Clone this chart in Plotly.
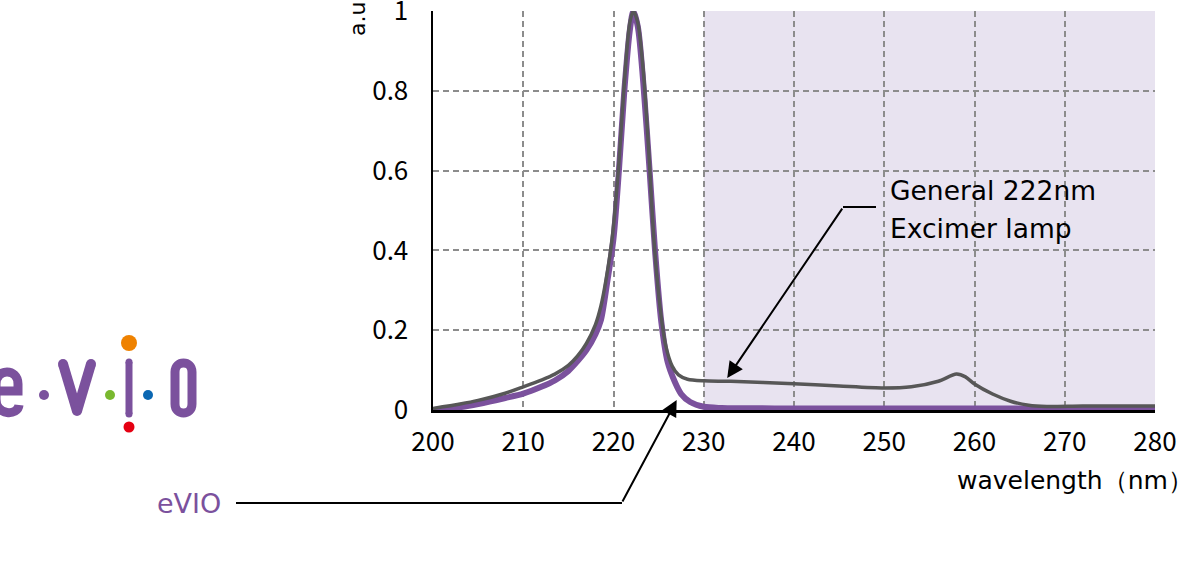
import plotly.graph_objects as go

# ---------------- data ----------------
evio_wl = [200, 203, 205, 208, 210, 212, 213.5, 215, 216, 217, 218, 218.6, 219.3, 220, 220.6,
           221.2, 221.8, 222.2, 222.7, 223.3, 224, 224.6, 225.3, 226, 226.8, 227.5, 228.5, 230,
           232, 240, 260, 280]
evio_val = [0.0, 0.007, 0.015, 0.03, 0.041, 0.058, 0.074, 0.098, 0.122, 0.15, 0.19, 0.225, 0.32,
            0.43, 0.6, 0.8, 0.95, 1.0, 0.96, 0.82, 0.6, 0.4, 0.22, 0.12, 0.07, 0.04, 0.02, 0.008,
            0.005, 0.004, 0.004, 0.004]

lamp_wl = [200, 203, 205, 208, 210, 212, 213.5, 215, 216, 217, 218, 218.6, 219.2, 219.9, 220.6,
           221.2, 221.8, 222.2, 222.7, 223.3, 223.9, 224.5, 225.2, 225.8, 226.5, 227.2, 228.2,
           230, 233, 240, 245, 250, 253, 256, 258, 259, 260, 262, 264, 266, 268, 272, 280]
lamp_val = [0.004, 0.015, 0.024, 0.042, 0.058, 0.075, 0.09, 0.112, 0.135, 0.167, 0.214, 0.26,
            0.33, 0.44, 0.62, 0.82, 0.97, 1.0, 0.97, 0.85, 0.65, 0.42, 0.25, 0.16, 0.11, 0.088,
            0.077, 0.073, 0.072, 0.066, 0.06, 0.055, 0.058, 0.072, 0.09, 0.083, 0.065, 0.04,
            0.022, 0.012, 0.009, 0.01, 0.01]

x_ticks = [200, 210, 220, 230, 240, 250, 260, 270, 280]
x_ticklabels = ["200", "210", "220", "230", "240", "250", "260", "270", "280"]
x_gridvals = [210, 220, 230, 240, 250, 260, 270]
y_ticks = [0, 0.2, 0.4, 0.6, 0.8, 1]
y_ticklabels = ["0", "0.2", "0.4", "0.6", "0.8", "1"]
shade_range = [230, 280]

PURPLE = "#7B519D"
GRAY = "#575757"
TICKFONT = "Noto Sans CJK JP, Noto Sans, sans-serif"
TEXTFONT = "DejaVu Sans, sans-serif"

W, H = 1200, 563
L, R, T, B = 433, 45, 11, 153
PW, PH = W - L - R, H - T - B


def px(x):
    return (x - L) / PW


def py(y):
    return (H - B - y) / PH


fig = go.Figure()
fig.add_trace(go.Scatter(x=evio_wl, y=evio_val, mode="lines",
                         line=dict(color=PURPLE, width=6, shape="spline", smoothing=0.8),
                         showlegend=False, hoverinfo="skip"))
fig.add_trace(go.Scatter(x=lamp_wl, y=lamp_val, mode="lines",
                         line=dict(color=GRAY, width=3.5, shape="spline", smoothing=0.8),
                         showlegend=False, hoverinfo="skip"))

shapes = []
shapes.append(dict(type="rect", xref="x", yref="y", x0=shade_range[0], x1=shade_range[1],
                   y0=0, y1=1, fillcolor="#E8E3F0", line=dict(width=0), layer="below"))

shapes.append(dict(type="line", xref="paper", yref="paper", x0=px(843), x1=px(876),
                   y0=py(207), y1=py(207), line=dict(color="black", width=2)))
shapes.append(dict(type="line", xref="paper", yref="paper", x0=px(236), x1=px(622),
                   y0=py(503), y1=py(503), line=dict(color="black", width=2)))


def seg(x0, y0, x1, y1, w, c=PURPLE):
    return dict(type="line", xref="paper", yref="paper", x0=px(x0), x1=px(x1),
                y0=py(y0), y1=py(y1), line=dict(color=c, width=w), layer="above")


def dot(cx, cy, r, c):
    return dict(type="circle", xref="paper", yref="paper", x0=px(cx - r), x1=px(cx + r),
                y0=py(cy + r), y1=py(cy - r), fillcolor=c, line=dict(width=0), layer="above")


def path(pts, w):
    out = []
    for tok in pts.split():
        if "," in tok:
            a, b = tok.split(",")
            out.append(f"{px(float(a)):.5f},{py(float(b)):.5f}")
        else:
            out.append(tok)
    return dict(type="path", xref="paper", yref="paper", path=" ".join(out),
                line=dict(color=PURPLE, width=w), layer="above")

# logo e . V . I . O
shapes.append(path("M -4,391 L 18,391 L 18,384 C 18,368 -4,368 -4,384 L -4,399 C -4,416 18,416 19,405", 9))
shapes.append(dot(44, 395, 5, PURPLE))
shapes.append(seg(63, 364, 77, 411, 10))
shapes.append(seg(91, 364, 77, 411, 10))
shapes.append(dot(63, 364, 5, PURPLE))
shapes.append(dot(91, 364, 5, PURPLE))
shapes.append(dot(77, 411, 5, PURPLE))
shapes.append(dot(110, 395, 5, "#79B82F"))
shapes.append(seg(129, 362, 129, 414, 7))
shapes.append(dot(129, 362, 3.5, PURPLE))
shapes.append(dot(129, 414, 3.5, PURPLE))
shapes.append(dot(129, 343, 8, "#EF8200"))
shapes.append(dot(129, 427, 5.5, "#E50012"))
shapes.append(dot(148, 395, 5, "#0B67B2"))
shapes.append(path("M 175,372 L 175,404 C 175,416 192,416 192,404 L 192,372 C 192,360 175,360 175,372 Z", 9))

annotations = [
    dict(x=232.6, y=0.08, xref="x", yref="y", ax=116, ay=-171,
         text="", showarrow=True, arrowhead=2, arrowsize=1.6, arrowwidth=2, arrowcolor="black",
         standoff=0),
    dict(x=227.0, y=0.025, xref="x", yref="y", ax=-55, ay=103,
         text="", showarrow=True, arrowhead=2, arrowsize=1.6, arrowwidth=2, arrowcolor="black",
         standoff=0),
    dict(x=px(888), y=py(190), xref="paper", yref="paper", xanchor="left", yanchor="middle",
         text="General 222nm", showarrow=False, font=dict(size=26.5, color="black", family=TEXTFONT)),
    dict(x=px(888), y=py(228), xref="paper", yref="paper", xanchor="left", yanchor="middle",
         text="Excimer lamp", showarrow=False, font=dict(size=26.5, color="black", family=TEXTFONT)),
    dict(x=px(223), y=py(503), xref="paper", yref="paper", xanchor="right", yanchor="middle",
         text="eVIO", showarrow=False, font=dict(size=27, color=PURPLE, family=TEXTFONT)),
    dict(x=px(1195), y=py(480), xref="paper", yref="paper", xanchor="right", yanchor="middle",
         text="wavelength（nm）", showarrow=False, font=dict(size=25, color="black", family=TEXTFONT)),
    dict(x=px(358), y=py(0), xref="paper", yref="paper", xanchor="center", yanchor="top",
         text="a.u", textangle=-90, showarrow=False, font=dict(size=22, color="black", family=TEXTFONT)),
]

GRID = dict(gridcolor="#8C8C8C", gridwidth=2, griddash="6px,4px")

fig.update_layout(
    width=W, height=H,
    margin=dict(l=L, r=R, t=T, b=B, pad=0, autoexpand=False),
    paper_bgcolor="white", plot_bgcolor="white",
    shapes=shapes, annotations=annotations,
    font=dict(family=TICKFONT, size=26, color="black"),
    xaxis=dict(range=[200, 280], tickvals=x_ticks, ticktext=x_ticklabels, showgrid=False,
               minor=dict(tickvals=x_gridvals, showgrid=True, ticks="", **GRID),
               zeroline=False, showline=True, linecolor="black", linewidth=2.5, ticks="",
               ticklabelstandoff=7, ticklabeloverflow="allow", automargin=False,
               tickfont=dict(size=26, family=TICKFONT, color="black")),
    yaxis=dict(range=[0, 1], tickvals=y_ticks, ticktext=y_ticklabels, showgrid=True, **GRID,
               zeroline=False, showline=True, linecolor="black", linewidth=2.5, ticks="",
               ticklabelstandoff=17, ticklabeloverflow="allow", automargin=False,
               tickfont=dict(size=26, family=TICKFONT, color="black")),
)

fig.write_html("out.html", config={"displayModeBar": False, "staticPlot": True},
               post_script="document.body.style.margin='0';document.body.style.overflow='hidden';")
